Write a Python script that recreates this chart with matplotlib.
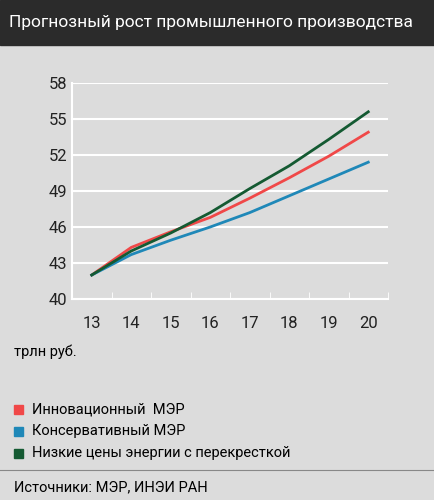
import matplotlib
matplotlib.use("Agg")
import matplotlib.pyplot as plt

years = [13, 14, 15, 16, 17, 18, 19, 20]
innov = [42.0, 44.3, 45.6, 46.8, 48.4, 50.1, 51.9, 53.9]
conserv = [42.0, 43.7, 44.9, 46.0, 47.2, 48.6, 50.0, 51.4]
lowprice = [42.0, 44.0, 45.5, 47.2, 49.2, 51.1, 53.3, 55.6]
yticks = [40, 43, 46, 49, 52, 55, 58]
labels = ["Инновационный  МЭР", "Консервативный МЭР", "Низкие цены энергии с перекресткой"]
colors = ["#f04848", "#1f88b8", "#145a32"]
bg = "#dcdcdc"
font = "Roboto"

fig = plt.figure(figsize=(4.35, 5.0), dpi=100, facecolor=bg)
fig.patches.append(plt.Rectangle((0, 0.91), 1, 0.09, transform=fig.transFigure, color="#2b2b2b"))
fig.text(0.02, 0.955, "Прогнозный рост промышленного производства", color="white",
         fontsize=12.5, va="center", family=font, fontstretch="condensed")

ax = fig.add_axes([72/435, 1-299/500, (388-72)/435, (299-83)/500])
ax.set_facecolor(bg)
for s, c in zip([innov, conserv, lowprice], colors):
    ax.plot(years, s, color=c, lw=2)
ax.set_xlim(12.5, 20.5)
ax.set_ylim(40, 58)
ax.set_yticks(yticks)
ax.set_xticks(years)
ax.set_xticks([12.5 + i for i in range(9)], minor=True)
ax.tick_params(axis="x", which="major", length=0, labelsize=12, pad=12)
ax.tick_params(axis="x", which="minor", length=5, color="white", direction="in")
ax.tick_params(axis="y", length=5, color="white", direction="in", labelsize=12)
ax.grid(axis="y", color="white", lw=1.5)
for sp in ["top", "right"]:
    ax.spines[sp].set_visible(False)
for sp in ["left", "bottom"]:
    ax.spines[sp].set_color("white")
    ax.spines[sp].set_linewidth(1.5)
for t in ax.get_xticklabels() + ax.get_yticklabels():
    t.set_family(font); t.set_color("#222222")
ax.set_axisbelow(True)

fig.text(14/435, 1-352/500, "трлн руб.", fontsize=10.5, family=font, va="center")
for i, (lab, c) in enumerate(zip(labels, colors)):
    y = 1 - (409 + i*22)/500
    fig.patches.append(plt.Rectangle((14/435, y-0.009), 9/435, 9/500, transform=fig.transFigure, color=c))
    fig.text(32/435, y, lab, fontsize=10.5, family=font, va="center")
fig.lines.append(plt.Line2D([0, 1], [1-470/500]*2, transform=fig.transFigure, color="#888888", lw=0.8))
fig.text(14/435, 1-487/500, "Источники: МЭР, ИНЭИ РАН", fontsize=10.5, family=font, va="center")
fig.savefig("out.png", dpi=100, facecolor=bg)
